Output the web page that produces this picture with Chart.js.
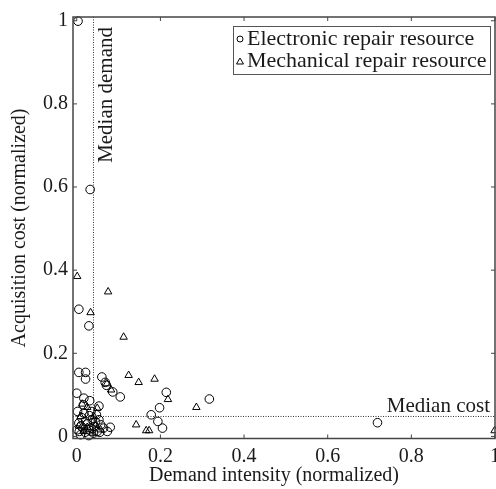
<!DOCTYPE html>
<html>
<head>
<meta charset="utf-8">
<script src="https://cdn.jsdelivr.net/npm/chart.js@4.4.1/dist/chart.umd.min.js"></script>
<style>
  html, body { margin: 0; padding: 0; background: #fff; overflow: hidden; }
  #wrap { width: 496px; height: 489px; overflow: hidden; }
  #wrap div { width: 506px; height: 489px; }
</style>
</head>
<body>
<div id="wrap"><div><canvas id="scatter"></canvas></div></div>
<script>
// ticks (both axes)
const TICKS = [0, 0.2, 0.4, 0.6, 0.8, 1];
const TICK_LABELS = ['0', '0.2', '0.4', '0.6', '0.8', '1'];

// medians
const MEDIAN_DEMAND = 0.04;
const MEDIAN_COST = 0.048;

// electronic repair resources: demand intensity / acquisition cost
const electronicDemand = [
  0.003, 0.032, 0.005, 0.029, 0.005, 0.021, 0.021, 0.060, 0.068, 0.071,
  0.086, 0.104, 0.214, 0.198, 0.317, 0.178, 0.194, 0.205, 0.719, 0.016,
  0.000, 0.017, 0.031, 0.053, 0.002, 0.017, 0.034, 0.047, 0.053, 0.037,
  0.021, 0.005, 0.001, 0.015, 0.029, 0.041, 0.057, 0.064, 0.080, 0.073,
  0.049, 0.029, 0.009, 0.010, 0.020, 0.025, 0.035, 0.045, 0.012, 0.006,
  0.040, 0.030, 0.055
];
const electronicCost = [
  0.999, 0.594, 0.306, 0.266, 0.154, 0.154, 0.138, 0.143, 0.130, 0.123,
  0.107, 0.095, 0.106, 0.069, 0.090, 0.052, 0.036, 0.020, 0.033, 0.076,
  0.104, 0.092, 0.086, 0.073, 0.060, 0.056, 0.060, 0.052, 0.040, 0.040,
  0.036, 0.032, 0.016, 0.020, 0.016, 0.024, 0.028, 0.020, 0.022, 0.012,
  0.012, 0.002, 0.004, 0.025, 0.010, 0.030, 0.020, 0.035, 0.045, 0.012,
  0.008, 0.050, 0.010
];

// mechanical repair resources
const mechanicalDemand = [
  0.001, 0.075, 0.033, 0.112, 0.124, 0.148, 0.186, 0.072, 0.082, 0.218,
  0.286, 0.142, 0.166, 0.173, 0.999, 0.013, 0.049, 0.025, 0.009, 0.041,
  0.017, 0.037, 0.057, 0.005, 0.025, 0.045
];
const mechanicalCost = [
  0.385, 0.348, 0.298, 0.239, 0.147, 0.130, 0.138, 0.127, 0.112, 0.089,
  0.070, 0.028, 0.014, 0.014, 0.014, 0.078, 0.068, 0.070, 0.048, 0.048,
  0.012, 0.008, 0.016, 0.025, 0.022, 0.028
];

const FONT = '"Liberation Serif", "DejaVu Serif", serif';
const INK = '#1a1a1a';

function pairs(xs, ys) {
  return xs.map((v, i) => ({ x: v, y: ys[i] }));
}

const overlay = {
  id: 'overlay',
  beforeDatasetsDraw(chart) {
    const { ctx, chartArea: a, scales: { x, y } } = chart;
    const mx = x.getPixelForValue(MEDIAN_DEMAND);
    const my = y.getPixelForValue(MEDIAN_COST);
    ctx.save();
    ctx.strokeStyle = '#333';
    ctx.lineWidth = 1;
    ctx.setLineDash([1, 1.5]);
    ctx.beginPath();
    ctx.moveTo(mx, a.top); ctx.lineTo(mx, a.bottom);
    ctx.moveTo(a.left, my); ctx.lineTo(a.right, my);
    ctx.stroke();
    ctx.setLineDash([]);

    ctx.fillStyle = INK;
    ctx.font = '21px ' + FONT;
    ctx.textAlign = 'right';
    ctx.textBaseline = 'alphabetic';
    ctx.fillText('Median cost', a.right - 5, my - 4);

    ctx.translate(mx + 19, a.top + 10);
    ctx.rotate(-Math.PI / 2);
    ctx.fillText('Median demand', 0, 0);
    ctx.restore();
  },
  afterDraw(chart) {
    const { ctx, chartArea: a, scales: { x, y } } = chart;
    ctx.save();
    // frame
    ctx.strokeStyle = '#444';
    ctx.lineWidth = 1.5;
    ctx.strokeRect(a.left, a.top, a.right - a.left, a.bottom - a.top);
    // inward ticks on all four sides
    ctx.lineWidth = 1;
    ctx.beginPath();
    TICKS.forEach(v => {
      const px = x.getPixelForValue(v);
      ctx.moveTo(px, a.bottom); ctx.lineTo(px, a.bottom - 4);
      ctx.moveTo(px, a.top); ctx.lineTo(px, a.top + 4);
      const py = y.getPixelForValue(v);
      ctx.moveTo(a.left, py); ctx.lineTo(a.left + 4, py);
      ctx.moveTo(a.right, py); ctx.lineTo(a.right - 4, py);
    });
    ctx.stroke();

    // axis titles
    ctx.fillStyle = INK;
    ctx.font = '20px ' + FONT;
    ctx.textAlign = 'center';
    ctx.textBaseline = 'middle';
    ctx.fillText('Demand intensity (normalized)', 274, 476);
    ctx.save();
    ctx.translate(20, 228);
    ctx.rotate(-Math.PI / 2);
    ctx.fillText('Acquisition cost (normalized)', 0, 0);
    ctx.restore();

    // legend box
    const lx = 233, ly = 26, lw = 257, lh = 48;
    ctx.fillStyle = '#fff';
    ctx.fillRect(lx, ly, lw, lh);
    ctx.strokeStyle = '#555';
    ctx.lineWidth = 1;
    ctx.strokeRect(lx + 0.5, ly + 0.5, lw, lh);
    ctx.strokeStyle = '#000';
    ctx.beginPath();
    ctx.arc(lx + 7, ly + 13, 3, 0, Math.PI * 2);
    ctx.stroke();
    ctx.beginPath();
    ctx.moveTo(lx + 7, ly + 32);
    ctx.lineTo(lx + 10.5, ly + 38);
    ctx.lineTo(lx + 3.5, ly + 38);
    ctx.closePath();
    ctx.stroke();
    ctx.fillStyle = INK;
    ctx.font = '22px ' + FONT;
    ctx.textAlign = 'left';
    ctx.fillText('Electronic repair resource', lx + 14, ly + 13);
    ctx.fillText('Mechanical repair resource', lx + 14, ly + 35);
    ctx.restore();
  }
};

const tickFont = { family: FONT, size: 20 };

new Chart(document.getElementById('scatter'), {
  type: 'scatter',
  data: {
    datasets: [
      {
        label: 'Electronic repair resource',
        data: pairs(electronicDemand, electronicCost),
        pointStyle: 'circle',
        pointRadius: 4.3,
        borderColor: '#000',
        backgroundColor: 'rgba(0,0,0,0)',
        borderWidth: 1
      },
      {
        label: 'Mechanical repair resource',
        data: pairs(mechanicalDemand, mechanicalCost),
        pointStyle: 'triangle',
        pointRadius: 4.3,
        borderColor: '#000',
        backgroundColor: 'rgba(0,0,0,0)',
        borderWidth: 1
      }
    ]
  },
  options: {
    responsive: true,
    maintainAspectRatio: false,
    animation: false,
    clip: false,
    layout: { padding: { top: 15, right: 10, left: 0, bottom: 0 } },
    plugins: {
      legend: { display: false },
      tooltip: { enabled: false }
    },
    scales: {
      x: {
        type: 'linear',
        min: -0.009,
        max: 1.0,
        grid: { display: false, drawTicks: false },
        border: { display: false },
        afterBuildTicks: s => { s.ticks = TICKS.map(v => ({ value: v })); },
        afterFit: s => { s.height = 50.5; },
        ticks: {
          color: INK,
          font: tickFont,
          padding: 6,
          maxRotation: 0,
          callback: (v) => TICK_LABELS[TICKS.indexOf(v)]
        }
      },
      y: {
        type: 'linear',
        min: -0.005,
        max: 1.009,
        grid: { display: false, drawTicks: false },
        border: { display: false },
        afterBuildTicks: s => { s.ticks = TICKS.map(v => ({ value: v })); },
        afterFit: s => { s.width = 73; },
        ticks: {
          color: INK,
          font: tickFont,
          padding: 5,
          callback: (v) => TICK_LABELS[TICKS.indexOf(v)]
        }
      }
    }
  },
  plugins: [overlay]
});
</script>
</body>
</html>
